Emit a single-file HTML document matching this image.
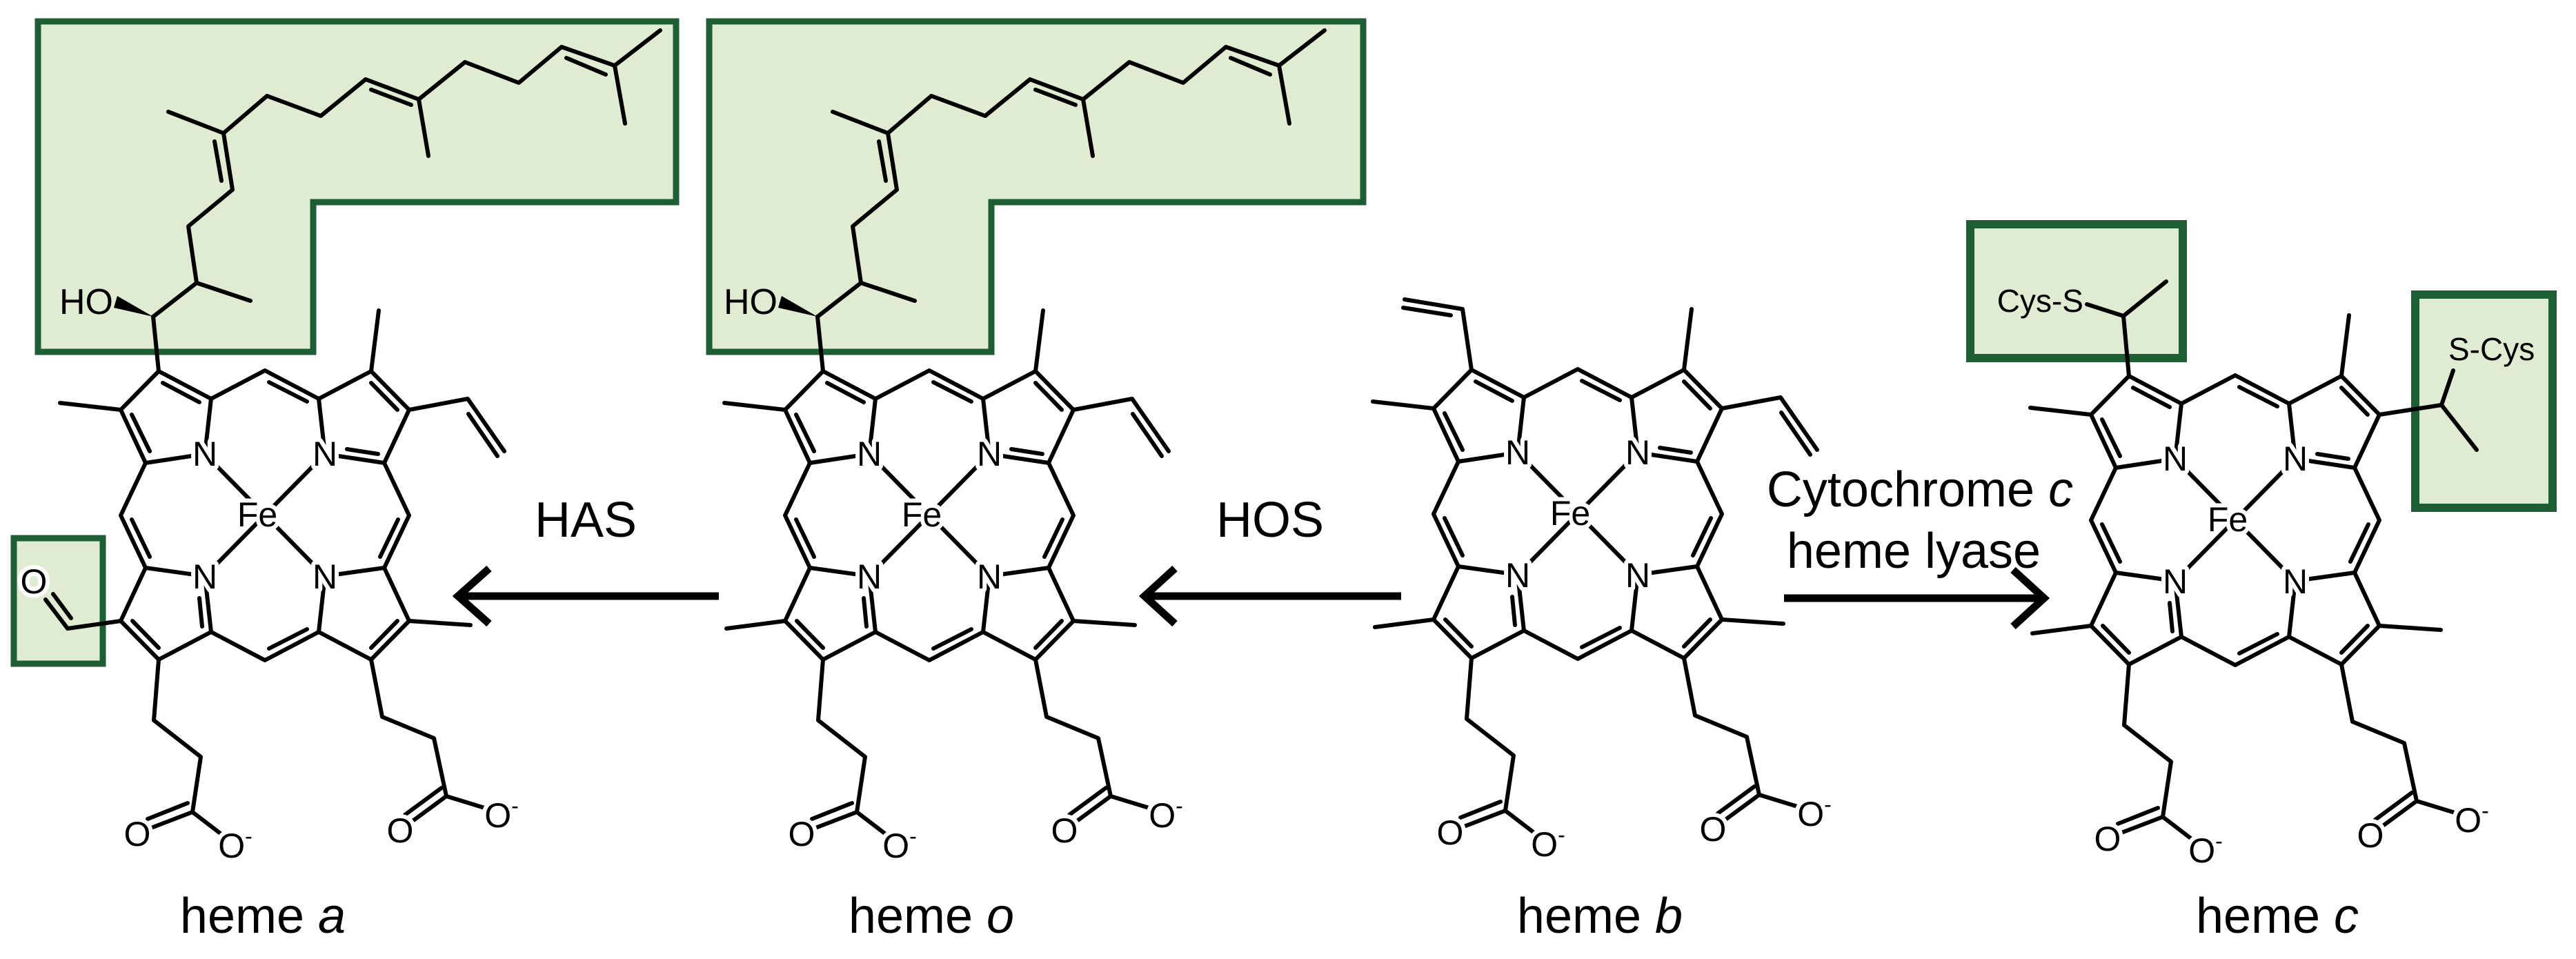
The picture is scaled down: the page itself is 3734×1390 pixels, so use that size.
<!DOCTYPE html>
<html><head><meta charset="utf-8"><style>
html,body{margin:0;padding:0;background:#fff;}
svg{display:block;}
text{font-family:"Liberation Sans",sans-serif;fill:#000;}
.at{font-size:50px;text-anchor:middle;paint-order:stroke;stroke:#fff;stroke-width:12px;stroke-linejoin:round;}
.lb{font-size:72px;text-anchor:middle;}
</style></head><body>
<svg width="3734" height="1390" viewBox="0 0 3734 1390" xmlns="http://www.w3.org/2000/svg">
<defs>
<g id="core" fill="none" stroke="#000" stroke-width="6" stroke-linecap="round" stroke-linejoin="round">
<path d="M-78,-169 L0,-210 L78,-169 L154,-209 L209,-153 L173,-76 L209,0 L173,76 L209,153 L154,209 L78,169 L0,210 L-78,169 L-154,209 L-209,153 L-173,76 L-209,0 L-173,-76 L-209,-153 L-154,-209 Z"/>
<path d="M-78,-169 L-87,-89 L-173,-76 M78,-169 L87,-89 L173,-76 M173,76 L87,88 L78,169 M-78,169 L-87,88 L-173,76"/>
<path d="M-87,-89 L87,88 M87,-89 L-87,88"/>
<path d="M-95,-164 L-148,-192 M-193,-146 L-167,-93 M154,-192 L192,-153 M119,-96 L164,-89 M6,-193 L61,-165 M193,6 L167,60 M192,153 L154,192 M6,193 L61,165 M-91,161 L-95,120 M-192,153 L-154,192 M-193,6 L-167,60"/>
<path d="M-209,-153 L-297,-163 M154,-209 L165,-297 M209,153 L298,159"/>
<path d="M-154,209 L-161,297 L-93,350 L-105,430 L-165,453 M-112,417 L-170,440 M-105,430 L-58,466"/>
<path d="M154,209 L170,292 L245,323 L263,407 L210,446 M256,395 L203,434 M263,407 L325,426"/>
</g>
<g id="trvinyl" fill="none" stroke="#000" stroke-width="6" stroke-linecap="round" stroke-linejoin="round">
<path d="M209,-153 L294,-169 L347,-93 M295,-147 L337,-86"/>
</g>
<g id="blme" fill="none" stroke="#000" stroke-width="6" stroke-linecap="round"><path d="M-209,153 L-294,164"/></g>
<g id="chain" fill="none" stroke="#000" stroke-width="6" stroke-linecap="round" stroke-linejoin="round">
<path d="M230,538 L222,459 L285,410 L363,436 M285,410 L273,328 L337,275 L324,193 L244,162 M324,193 L387,139 L465,168 L530,115 L607,144 L621,226 M607,144 L674,90 L752,120 L814,68 L891,95 L957,44 M891,95 L906,179"/>
<path d="M311,205 L321,262 M538,130 L596,152 M821,84 L878,108"/>
<polygon points="222,459 170,429 165,446" fill="#000" stroke="none"/>
</g>
</defs>

<!-- boxes -->
<g fill="#dfecd1" stroke="#1e5e35" stroke-width="9">
<polygon points="55,31 980,31 980,293 454,293 454,510 55,510"/>
<polygon points="1028,31 1976,31 1976,293 1437,293 1437,510 1028,510"/>
<rect x="20" y="780" width="129" height="182"/>
</g>
<g fill="#dfecd1" stroke="#1e5e35" stroke-width="12">
<rect x="2856" y="325" width="308" height="194"/>
<rect x="3501" y="427" width="199" height="309"/>
</g>

<!-- heme a -->
<use href="#chain"/>
<text x="164" y="455" font-size="52" text-anchor="end" font-family="Liberation Sans Narrow, Liberation Sans, sans-serif">HO</text>
<g transform="translate(384,747)">
<use href="#core"/><use href="#trvinyl"/>
<path d="M-209,153 L-286,164 L-318,122 M-281,149 L-307,114" fill="none" stroke="#000" stroke-width="6" stroke-linecap="round" stroke-linejoin="round"/>
<text class="at" x="-335" y="113">O</text>
<text class="at" x="-87" y="-72">N</text><text class="at" x="87" y="-72">N</text>
<text class="at" x="-87" y="106">N</text><text class="at" x="87" y="106">N</text>
<text class="at" x="-11" y="16">Fe</text>
<text class="at" x="-185" y="479">O</text><text class="at" x="-43" y="496">O<tspan dy="-20" font-size="32">-</tspan></text>
<text class="at" x="196" y="474">O</text><text class="at" x="343" y="452">O<tspan dy="-20" font-size="32">-</tspan></text>
</g>
<text class="lb" x="381" y="1352">heme <tspan font-style="italic">a</tspan></text>

<!-- heme o -->
<use href="#chain" transform="translate(963,0)"/>
<text x="1127" y="455" font-size="52" text-anchor="end">HO</text>
<g transform="translate(1347,747)">
<use href="#core"/><use href="#trvinyl"/><use href="#blme"/>
<text class="at" x="-87" y="-72">N</text><text class="at" x="87" y="-72">N</text>
<text class="at" x="-87" y="106">N</text><text class="at" x="87" y="106">N</text>
<text class="at" x="-11" y="16">Fe</text>
<text class="at" x="-185" y="479">O</text><text class="at" x="-43" y="496">O<tspan dy="-20" font-size="32">-</tspan></text>
<text class="at" x="196" y="474">O</text><text class="at" x="343" y="452">O<tspan dy="-20" font-size="32">-</tspan></text>
</g>
<text class="lb" x="1350" y="1352">heme <tspan font-style="italic">o</tspan></text>

<!-- heme b -->
<g transform="translate(2287,745)">
<use href="#core"/><use href="#trvinyl"/><use href="#blme"/>
<path d="M-154,-209 L-167,-297 L-251,-311 M-184,-288 L-253,-299" fill="none" stroke="#000" stroke-width="6" stroke-linecap="round" stroke-linejoin="round"/>
<text class="at" x="-87" y="-72">N</text><text class="at" x="87" y="-72">N</text>
<text class="at" x="-87" y="106">N</text><text class="at" x="87" y="106">N</text>
<text class="at" x="-11" y="16">Fe</text>
<text class="at" x="-185" y="479">O</text><text class="at" x="-43" y="496">O<tspan dy="-20" font-size="32">-</tspan></text>
<text class="at" x="196" y="474">O</text><text class="at" x="343" y="452">O<tspan dy="-20" font-size="32">-</tspan></text>
</g>
<text class="lb" x="2319" y="1352">heme <tspan font-style="italic">b</tspan></text>

<!-- heme c -->
<g fill="none" stroke="#000" stroke-width="6" stroke-linecap="round" stroke-linejoin="round">
<path d="M3086,545 L3078,458 L3025,441 M3078,458 L3140,408"/>
<path d="M3449,601 L3539,587 L3556,537 M3539,587 L3590,652"/>
</g>
<text x="3020" y="452" font-size="46" text-anchor="end">Cys-S</text>
<text x="3549" y="522" font-size="46">S-Cys</text>
<g transform="translate(3240,754)">
<use href="#core"/><use href="#blme"/>
<text class="at" x="-87" y="-72">N</text><text class="at" x="87" y="-72">N</text>
<text class="at" x="-87" y="106">N</text><text class="at" x="87" y="106">N</text>
<text class="at" x="-11" y="16">Fe</text>
<text class="at" x="-185" y="479">O</text><text class="at" x="-43" y="496">O<tspan dy="-20" font-size="32">-</tspan></text>
<text class="at" x="196" y="474">O</text><text class="at" x="343" y="452">O<tspan dy="-20" font-size="32">-</tspan></text>
</g>
<text class="lb" x="3301" y="1352">heme <tspan font-style="italic">c</tspan></text>

<!-- arrows -->
<g fill="none" stroke="#000" stroke-width="11" stroke-linecap="butt" stroke-linejoin="miter">
<path d="M1042,864 L664,864 M709,824 L664,864 L709,904"/>
<path d="M2031,864 L1659,864 M1703,824 L1659,864 L1703,904"/>
<path d="M2586,867 L2963,867 M2918,826 L2963,867 L2918,908"/>
</g>
<text class="lb" x="849" y="778">HAS</text>
<text class="lb" x="1841" y="778">HOS</text>
<text class="lb" x="2783" y="734">Cytochrome <tspan font-style="italic">c</tspan></text>
<text class="lb" x="2774" y="823">heme lyase</text>
</svg>
</body></html>
